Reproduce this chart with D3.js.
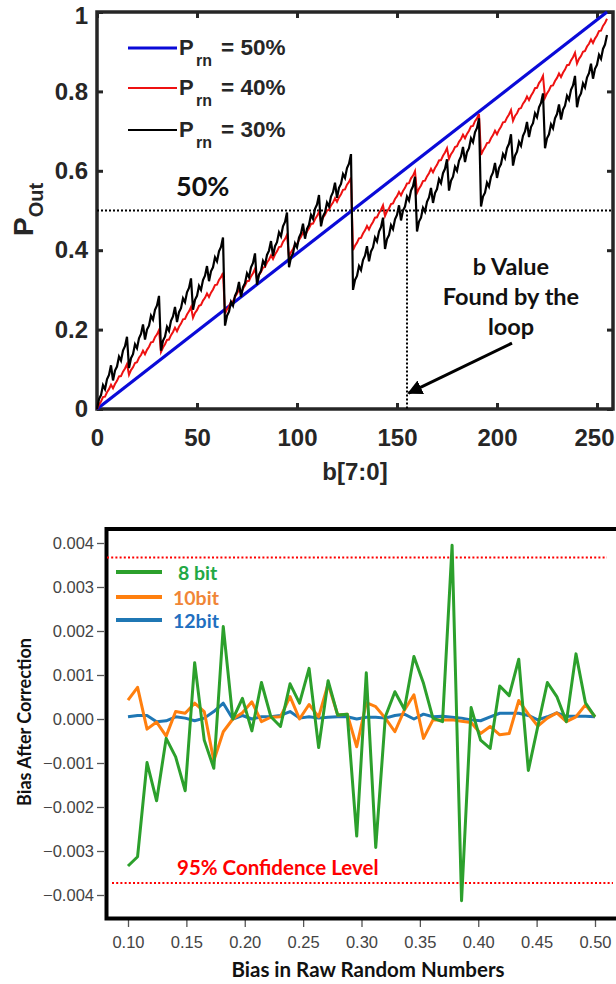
<!DOCTYPE html>
<html lang="en">
<head>
    <meta charset="UTF-8">
    <title>P_Out vs b and bias after correction</title>
    <script type="text/javascript" src="https://d3js.org/d3.v7.min.js"></script>
    <style>
        body { margin: 0; background: #fff; }
        svg { display: block; }
    </style>
</head>
<body>
    <div id="chart"></div>
    <script>
        // ---------- top chart data: P_Out for b = 0..255 ----------
        const bTicks = [0, 50, 100, 150, 200, 250];
        const pTicks = [0, 0.2, 0.4, 0.6, 0.8, 1];

        // P_rn = 50% is a straight line
        const prn50B = [0, 255];
        const prn50 = [0, 1];

        const prn40 = [
            0,.011,.019,.030,.031,.042,.050,.061,.052,.063,.071,.082,.083,.094,.102,.113,
            .086,.098,.105,.116,.118,.129,.136,.147,.138,.149,.157,.168,.169,.181,.188,.199,
            .144,.155,.163,.174,.175,.186,.194,.205,.196,.207,.215,.226,.227,.238,.246,.257,
            .230,.242,.249,.260,.262,.273,.280,.291,.282,.293,.301,.312,.313,.325,.332,.343,
            .240,.251,.259,.270,.271,.282,.290,.301,.292,.303,.311,.322,.323,.334,.342,.353,
            .326,.338,.345,.356,.358,.369,.376,.387,.378,.389,.397,.408,.409,.421,.428,.439,
            .384,.395,.403,.414,.415,.426,.434,.445,.436,.447,.455,.466,.467,.478,.486,.497,
            .470,.482,.489,.500,.502,.513,.520,.531,.522,.533,.541,.552,.553,.565,.572,.583,
            .400,.411,.419,.430,.431,.442,.450,.461,.452,.463,.471,.482,.483,.494,.502,.513,
            .486,.498,.505,.516,.518,.529,.536,.547,.538,.549,.557,.568,.569,.581,.588,.599,
            .544,.555,.563,.574,.575,.586,.594,.605,.596,.607,.615,.626,.627,.638,.646,.657,
            .630,.642,.649,.660,.662,.673,.680,.691,.682,.693,.701,.712,.713,.725,.732,.743,
            .640,.651,.659,.670,.671,.682,.690,.701,.692,.703,.711,.722,.723,.734,.742,.753,
            .726,.738,.745,.756,.758,.769,.776,.787,.778,.789,.797,.808,.809,.821,.828,.839,
            .784,.795,.803,.814,.815,.826,.834,.845,.836,.847,.855,.866,.867,.878,.886,.897,
            .870,.882,.889,.900,.902,.913,.920,.931,.922,.933,.941,.952,.953,.965,.972,.983
        ];

        const prn30 = [
            0,.025,.035,.060,.050,.075,.086,.110,.072,.097,.107,.132,.122,.147,.158,.182,
            .103,.128,.138,.163,.153,.178,.189,.213,.175,.200,.210,.235,.225,.250,.261,.285,
            .147,.172,.182,.207,.197,.222,.233,.257,.219,.244,.254,.279,.269,.294,.305,.329,
            .250,.275,.285,.310,.300,.325,.336,.360,.322,.347,.357,.382,.372,.397,.408,.432,
            .210,.235,.245,.270,.260,.285,.296,.320,.282,.307,.317,.342,.332,.357,.368,.392,
            .313,.338,.348,.373,.363,.388,.399,.423,.385,.410,.420,.445,.435,.460,.471,.495,
            .357,.382,.392,.417,.407,.432,.443,.467,.429,.454,.464,.489,.479,.504,.515,.539,
            .460,.485,.495,.520,.510,.535,.546,.570,.532,.557,.567,.592,.582,.607,.618,.642,
            .300,.325,.335,.360,.350,.375,.386,.410,.372,.397,.407,.432,.422,.447,.458,.482,
            .403,.428,.438,.463,.453,.478,.489,.513,.475,.500,.510,.535,.525,.550,.561,.585,
            .447,.472,.482,.507,.497,.522,.533,.557,.519,.544,.554,.579,.569,.594,.605,.629,
            .550,.575,.585,.610,.600,.625,.636,.660,.622,.647,.657,.682,.672,.697,.708,.732,
            .510,.535,.545,.570,.560,.585,.596,.620,.582,.607,.617,.642,.632,.657,.668,.692,
            .613,.638,.648,.673,.663,.688,.699,.723,.685,.710,.720,.745,.735,.760,.771,.795,
            .657,.682,.692,.717,.707,.732,.743,.767,.729,.754,.764,.789,.779,.804,.815,.839,
            .760,.785,.795,.820,.810,.835,.846,.870,.832,.857,.867,.892,.882,.907,.918,.942
        ];

        const targetP = 0.5;
        const foundB = 155;

        // ---------- bottom chart data (bias values in units of 1e-3) ----------
        const rawBias = [
            0.1000, 0.1082, 0.1163, 0.1245, 0.1327, 0.1408, 0.1490, 0.1571, 0.1653, 0.1735,
            0.1816, 0.1898, 0.1980, 0.2061, 0.2143, 0.2224, 0.2306, 0.2388, 0.2469, 0.2551,
            0.2633, 0.2714, 0.2796, 0.2878, 0.2959, 0.3041, 0.3122, 0.3204, 0.3286, 0.3367,
            0.3449, 0.3531, 0.3612, 0.3694, 0.3776, 0.3857, 0.3939, 0.4020, 0.4102, 0.4184,
            0.4265, 0.4347, 0.4429, 0.4510, 0.4592, 0.4673, 0.4755, 0.4837, 0.4918, 0.5000
        ];
        const bias8bit = [
            -3.34, -3.13, -0.99, -1.86, -0.44, -0.86, -1.63, 1.28, -0.48, -1.12,
            2.10, 0.00, 0.47, -0.27, 0.83, 0.05, -0.17, 0.80, 0.36, 1.15,
            -0.65, 0.87, 0.09, 0.11, -2.66, 1.05, -2.92, 0.05, 0.62, 0.22,
            1.42, 0.81, 0.02, -0.06, 3.95, -4.13, 0.26, -0.48, -0.67, 0.75,
            0.53, 1.36, -1.17, -0.17, 0.83, 0.51, -0.06, 1.48, 0.37, 0.05
        ];
        const bias10bit = [
            0.43, 0.72, -0.23, -0.07, -0.39, 0.17, 0.13, 0.36, 0.17, -0.95,
            -0.29, 0.00, 0.14, 0.39, -0.06, 0.04, 0.05, 0.51, 0.00, 0.33,
            0.05, 0.80, 0.09, 0.11, -0.63, 0.37, 0.28, 0.02, -0.29, 0.20,
            0.55, -0.44, -0.02, -0.02, -0.02, -0.05, -0.08, -0.33, -0.17, -0.36,
            -0.33, 0.42, 0.11, -0.16, 0.02, 0.14, -0.06, 0.05, 0.32, 0.05
        ];
        const bias12bit = [
            0.05, 0.08, 0.08, -0.06, -0.04, 0.05, 0.02, -0.04, 0.02, 0.17,
            0.36, 0.00, 0.08, 0.00, 0.05, 0.05, 0.08, 0.17, 0.02, 0.05,
            0.02, 0.04, 0.05, 0.05, 0.00, 0.04, 0.04, 0.02, 0.08, 0.11,
            0.00, 0.11, 0.05, 0.06, 0.04, 0.02, -0.02, -0.04, 0.05, 0.13,
            0.13, 0.13, 0.08, -0.02, 0.05, 0.14, 0.06, 0.06, 0.06, 0.05
        ];
        const confUpper = 3.67;
        const confLower = -3.73;
        const biasXTicks = [0.10, 0.15, 0.20, 0.25, 0.30, 0.35, 0.40, 0.45, 0.50];
        const biasYTicks = [-4, -3, -2, -1, 0, 1, 2, 3, 4];

        const svg = d3.select("#chart")
            .append("svg")
            .attr("width", 616)
            .attr("height", 984);

        const arialBold = "'Liberation Sans', Arial, sans-serif";
        const lato = "Lato, 'Open Sans', sans-serif";

        // ================= TOP CHART =================
        const topG = svg.append("g");
        const xTop = d3.scaleLinear().domain([0, 258]).range([97, 613]);
        const yTop = d3.scaleLinear().domain([0, 1]).range([409, 12]);

        const axisStyle = g => {
            g.select(".domain").remove();
            g.selectAll(".tick line").attr("stroke", "#262626").attr("stroke-width", 3);
            g.selectAll("text")
                .attr("fill", "#262626")
                .style("font-family", arialBold)
                .style("font-weight", "bold")
                .style("font-size", "24px");
        };

        topG.append("g")
            .attr("transform", "translate(0,409)")
            .call(d3.axisBottom(xTop).tickValues(bTicks).tickSize(-6).tickPadding(20).tickFormat(d => String(d)))
            .call(axisStyle)
            .call(g => g.selectAll("text").filter(d => d === 250).attr("dx", -3));
        topG.append("g")
            .attr("transform", "translate(0,12)")
            .call(d3.axisTop(xTop).tickValues(bTicks).tickSize(-6).tickFormat(""))
            .call(axisStyle);
        topG.append("g")
            .attr("transform", "translate(97,0)")
            .call(d3.axisLeft(yTop).tickValues(pTicks).tickSize(-6).tickPadding(9).tickFormat(d => String(d)))
            .call(axisStyle)
            .call(g => g.selectAll("text").filter(d => d === 1).attr("y", 4));
        topG.append("g")
            .attr("transform", "translate(613,0)")
            .call(d3.axisRight(yTop).tickValues(pTicks).tickSize(-6).tickFormat(""))
            .call(axisStyle);

        topG.append("rect")
            .attr("x", xTop(0)).attr("y", yTop(1))
            .attr("width", xTop(258) - xTop(0))
            .attr("height", yTop(0) - yTop(1))
            .attr("fill", "none")
            .attr("stroke", "#262626")
            .attr("stroke-width", 3.5);

        // dotted guide lines
        topG.append("line")
            .attr("x1", xTop(0)).attr("x2", xTop(258))
            .attr("y1", yTop(targetP)).attr("y2", yTop(targetP))
            .attr("stroke", "#000").attr("stroke-width", 2).attr("stroke-dasharray", "2,2");
        topG.append("line")
            .attr("x1", xTop(foundB)).attr("x2", xTop(foundB))
            .attr("y1", yTop(targetP)).attr("y2", yTop(0))
            .attr("stroke", "#000").attr("stroke-width", 2).attr("stroke-dasharray", "2,2");

        const lineTop = d3.line()
            .x((d, i) => xTop(i))
            .y(d => yTop(d));

        topG.append("path")
            .attr("d", d3.line().x(d => xTop(d[0])).y(d => yTop(d[1]))(prn50B.map((b, i) => [b, prn50[i]])))
            .attr("fill", "none").attr("stroke", "#0a0ad8").attr("stroke-width", 3.2);
        topG.append("path")
            .attr("d", lineTop(prn40))
            .attr("fill", "none").attr("stroke", "#ee1111").attr("stroke-width", 2);
        topG.append("path")
            .attr("d", lineTop(prn30))
            .attr("fill", "none").attr("stroke", "#000").attr("stroke-width", 2.2);

        // legend
        const topLegend = [
            { label: "50%", color: "#0a0ad8", w: 3.2, y: 48 },
            { label: "40%", color: "#ee1111", w: 2, y: 88 },
            { label: "30%", color: "#000", w: 2.2, y: 130 }
        ];
        topLegend.forEach(d => {
            topG.append("line")
                .attr("x1", 128).attr("x2", 177)
                .attr("y1", d.y).attr("y2", d.y)
                .attr("stroke", d.color).attr("stroke-width", d.w);
            const t = topG.append("text")
                .attr("y", d.y + 7)
                .attr("fill", "#262626")
                .style("font-family", arialBold)
                .style("font-weight", "bold");
            t.append("tspan").attr("x", 179).style("font-size", "22px").text("P");
            t.append("tspan").attr("x", 196).attr("dy", 11).style("font-size", "16px").text("rn");
            t.append("tspan").attr("x", 221).attr("dy", -11).style("font-size", "22.5px").text("= " + d.label);
        });

        topG.append("text")
            .attr("x", 176).attr("y", 196)
            .attr("fill", "#111")
            .style("font-family", lato).style("font-weight", "bold").style("font-size", "27px")
            .text("50%");

        // axis titles
        topG.append("text")
            .attr("x", 355).attr("y", 480)
            .attr("text-anchor", "middle")
            .attr("fill", "#262626")
            .style("font-family", arialBold).style("font-weight", "bold").style("font-size", "24px")
            .text("b[7:0]");

        const yt = topG.append("text")
            .attr("transform", "translate(33,236) rotate(-90)")
            .attr("fill", "#262626")
            .style("font-family", arialBold).style("font-weight", "bold");
        yt.append("tspan").style("font-size", "28px").text("P");
        yt.append("tspan").attr("dy", 10).style("font-size", "20px").text("Out");

        // annotation
        const note = topG.append("text")
            .attr("text-anchor", "middle")
            .attr("fill", "#111")
            .style("font-family", lato).style("font-weight", "bold").style("font-size", "23.5px");
        ["b Value", "Found by the", "loop"].forEach((s, i) => {
            note.append("tspan").attr("x", 511).attr("y", 275 + i * 30).text(s);
        });

        svg.append("defs").append("marker")
            .attr("id", "arrow")
            .attr("viewBox", "0 0 10 10")
            .attr("refX", 9).attr("refY", 5)
            .attr("markerWidth", 5).attr("markerHeight", 5)
            .attr("orient", "auto")
            .append("path")
            .attr("d", "M0,0 L10,5 L0,10 z")
            .attr("fill", "#000");

        topG.append("line")
            .attr("x1", xTop(207.5)).attr("y1", yTop(0.166))
            .attr("x2", xTop(155.8)).attr("y2", yTop(0.04))
            .attr("stroke", "#000").attr("stroke-width", 3)
            .attr("marker-end", "url(#arrow)");

        // ================= BOTTOM CHART =================
        const botG = svg.append("g");
        const xBot = d3.scaleLinear().domain([0.1, 0.5]).range([128, 595]);
        const yBot = d3.scaleLinear().domain([-4, 4]).range([895, 543]);

        const botAxisStyle = g => {
            g.select(".domain").remove();
            g.selectAll(".tick line").attr("stroke", "#555").attr("stroke-width", 1.3);
            g.selectAll("text")
                .attr("fill", "#444")
                .style("font-family", "'Liberation Sans', Arial, sans-serif")
                .style("font-size", "16.5px");
        };

        botG.append("g")
            .attr("transform", "translate(0,920)")
            .call(d3.axisBottom(xBot).tickValues(biasXTicks).tickSize(7).tickPadding(9)
                .tickFormat(d => d.toFixed(2)))
            .call(botAxisStyle);
        botG.append("g")
            .attr("transform", "translate(104,0)")
            .call(d3.axisLeft(yBot).tickValues(biasYTicks).tickSize(7).tickPadding(3)
                .tickFormat(d => (d < 0 ? "\u2212" : "") + (Math.abs(d) / 1000).toFixed(3)))
            .call(botAxisStyle);

        botG.append("rect")
            .attr("x", 106.5).attr("y", 529)
            .attr("width", 520).attr("height", 389.5)
            .attr("fill", "none")
            .attr("stroke", "#000")
            .attr("stroke-width", 4);

        // confidence level lines
        botG.append("line")
            .attr("x1", 107).attr("x2", 607)
            .attr("y1", yBot(confUpper)).attr("y2", yBot(confUpper))
            .attr("stroke", "#ff0000").attr("stroke-width", 2).attr("stroke-dasharray", "2,2.2");
        botG.append("line")
            .attr("x1", 112).attr("x2", 613)
            .attr("y1", yBot(confLower)).attr("y2", yBot(confLower))
            .attr("stroke", "#ff0000").attr("stroke-width", 2).attr("stroke-dasharray", "2,2.2");

        const lineBot = d3.line()
            .x((d, i) => xBot(rawBias[i]))
            .y(d => yBot(d));

        const series = [
            { values: bias12bit, color: "#1f77b4", text: "#1f6fc0", label: "12bit", ly: 620, tx: 173 },
            { values: bias10bit, color: "#ff7f0e", text: "#f08536", label: "10bit", ly: 597, tx: 173 },
            { values: bias8bit, color: "#2ca02c", text: "#22a845", label: "8 bit", ly: 572, tx: 178 }
        ];
        series.forEach(s => {
            botG.append("path")
                .attr("d", lineBot(s.values))
                .attr("fill", "none")
                .attr("stroke", s.color)
                .attr("stroke-width", 3)
                .attr("stroke-linejoin", "round");
            botG.append("line")
                .attr("x1", 116).attr("x2", 162)
                .attr("y1", s.ly).attr("y2", s.ly)
                .attr("stroke", s.color).attr("stroke-width", 4);
            botG.append("text")
                .attr("x", s.tx).attr("y", s.ly + 8)
                .attr("fill", s.text)
                .style("font-family", lato).style("font-weight", "bold").style("font-size", "19.5px")
                .text(s.label);
        });

        botG.append("text")
            .attr("x", 177).attr("y", 875)
            .attr("fill", "#ff0000")
            .style("font-family", lato).style("font-weight", "bold").style("font-size", "20.5px")
            .text("95% Confidence Level");

        botG.append("text")
            .attr("x", 368).attr("y", 977)
            .attr("text-anchor", "middle")
            .attr("fill", "#111")
            .style("font-family", lato).style("font-weight", "bold").style("font-size", "20.5px")
            .text("Bias in Raw Random Numbers");

        botG.append("text")
            .attr("transform", "translate(31,722) rotate(-90)")
            .attr("text-anchor", "middle")
            .attr("fill", "#111")
            .style("font-family", lato).style("font-weight", "bold").style("font-size", "18px")
            .text("Bias After Correction");
    </script>
</body>
</html>
